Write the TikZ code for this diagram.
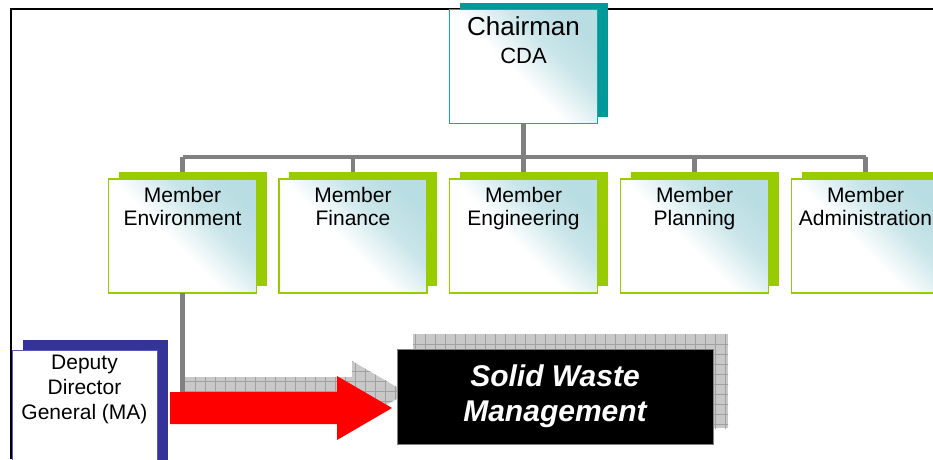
\documentclass[tikz,border=0pt]{standalone}
\usepackage{fontspec}
\setmainfont{Liberation Sans}
\usetikzlibrary{shadows}
\definecolor{tealS}{RGB}{0,153,153}
\definecolor{tealB}{RGB}{30,165,165}
\definecolor{lgreen}{RGB}{153,204,0}
\definecolor{navyS}{RGB}{51,51,153}
\definecolor{navyB}{RGB}{90,90,190}
\definecolor{shadeteal}{RGB}{184,221,226}
\definecolor{connc}{RGB}{128,128,128}
\definecolor{checkfill}{RGB}{200,200,200}
\definecolor{checkline}{RGB}{160,160,160}
\pgfdeclareverticalshading{cardshade}{100bp}{color(0bp)=(white); color(46bp)=(white); color(62bp)=(shadeteal!75!white); color(76bp)=(shadeteal); color(100bp)=(shadeteal)}
\tikzset{
  card/.style={rectangle, inner sep=0pt, outer sep=0pt,
    minimum width=148pt, minimum height=114pt,
    shade, shading=cardshade, shading angle=-45},
  membox/.style={card,
    general shadow={fill=lgreen, shadow xshift=10pt, shadow yshift=7pt},
    postaction={draw=lgreen, line width=1.6pt}},
  chairbox/.style={card,
    general shadow={fill=tealS, shadow xshift=10pt, shadow yshift=7pt},
    postaction={draw=tealB, line width=1.6pt}},
  deptbox/.style={rectangle, inner sep=0pt, outer sep=0pt, fill=white,
    minimum width=145pt, minimum height=120pt,
    general shadow={fill=navyS, shadow xshift=11pt, shadow yshift=10pt},
    postaction={draw=navyB, line width=1pt}},
  swmbox/.style={rectangle, inner sep=0pt, outer sep=0pt, draw=connc, line width=0.8pt,
    fill=black, minimum width=316pt, minimum height=95pt, text=white, align=center,
    font=\fontsize{30}{35}\selectfont\bfseries\itshape},
  lbl/.style={anchor=north, align=center, inner sep=0pt,
    font=\fontsize{21}{23}\selectfont},
  conn/.style={draw=connc, line width=4.8pt},
  gridline/.style={draw=checkline, line width=0.5pt},
}
\begin{document}
\begin{tikzpicture}[x=1pt,y=-1pt]
\useasboundingbox (0,0) rectangle (933,459);
% frame
\draw[line width=1.8pt] (11,459) -- (11,9) -- (933,9);
% connector bus
\coordinate (busL) at (182.5,157);
\coordinate (busR) at (865.5,157);
\draw[conn] (busL) -- (busR);
\draw[conn] (523.5,123) -- (523.5,157);
\foreach \x in {182.5,353,523.5,694.5,865.5} \draw[conn] (\x,157) -- (\x,180);
% chairman
\node[chairbox] (chair) at (523.5,66.5) {};
\node (chairT1) [anchor=base, inner sep=0pt, font=\fontsize{26}{28}\selectfont] at ([yshift=-26pt]chair.north) {Chairman};
\node (chairT2) [anchor=base, inner sep=0pt, font=\fontsize{22}{24}\selectfont] at ([yshift=-54pt]chair.north) {CDA};
% members
\node[membox] (env) at (182.5,236) {};
\node[membox] (fin) at (353,236) {};
\node[membox] (eng) at (523.5,236) {};
\node[membox] (pla) at (694.5,236) {};
\node[membox] (adm) at (865.5,236) {};
\node[lbl] (envT) at ([yshift=-8pt]env.north) {Member\\Environment};
\node[lbl] (finT) at ([yshift=-8pt]fin.north) {Member\\Finance};
\node[lbl] (engT) at ([yshift=-8pt]eng.north) {Member\\Engineering};
\node[lbl] (plaT) at ([yshift=-8pt]pla.north) {Member\\Planning};
\node[lbl] (admT) at ([yshift=-8pt]adm.north) {Member\\Administration};
% down line from Environment
\coordinate (envD) at (182.5,393);
\draw[conn] (env.south) -- (envD);
% checkered shadow arrow
\path[fill=checkfill] (185,377) -- (352,377) -- (352,361) -- (407,393) -- (352,425) -- (352,409) -- (185,409) -- cycle;
\begin{scope}
  \clip (185,377) -- (352,377) -- (352,361) -- (407,393) -- (352,425) -- (352,409) -- (185,409) -- cycle;
  \foreach \x in {195,205,...,405} \draw[gridline] (\x,355) -- (\x,430);
  \foreach \y in {361,371,...,425} \draw[gridline] (180,\y) -- (410,\y);
\end{scope}
% checkered shadow of solid waste box
\path[fill=checkfill] (413,334) rectangle (728,428);
\begin{scope}
  \clip (413,334) rectangle (728,428);
  \foreach \x in {415,425,...,725} \draw[gridline] (\x,330) -- (\x,430);
  \foreach \y in {344,354,...,424} \draw[gridline] (410,\y) -- (730,\y);
\end{scope}
% solid waste box
\node[swmbox] (swm) at (555,396.5) {Solid Waste\\Management};
% deputy
\node[deptbox] (dep) at (84.5,410) {};
\node[lbl, font=\fontsize{21}{25}\selectfont] (depT) at ([yshift=-5pt]dep.north) {Deputy\\Director\\General (MA)};
% red arrow
\path[fill=red] (170,392) -- (337,392) -- (337,376) -- (392,408) -- (337,440) -- (337,424) -- (170,424) -- cycle;
\end{tikzpicture}
\end{document}
